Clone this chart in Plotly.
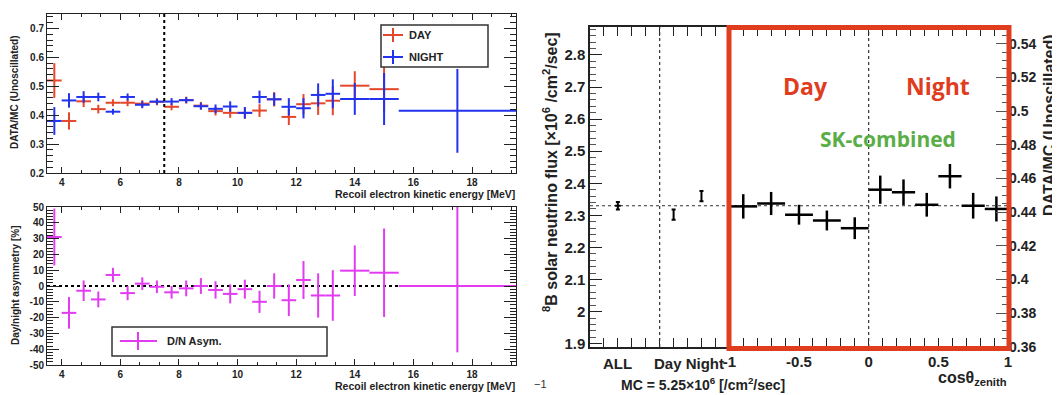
import plotly.graph_objects as go

# The page body has an 8px default margin, so the figure is drawn 8px smaller
# and all layout positions (given in screen pixels) are shifted by that margin.
OFF = 8
W, H = 1060 - OFF, 395 - OFF
FONT = "Liberation Sans"

# ---------------- data: left panels (energy spectrum) ----------------
energy_mev = [3.75, 4.25, 4.75, 5.25, 5.75, 6.25, 6.75, 7.25, 7.75, 8.25, 8.75, 9.25,
              9.75, 10.25, 10.75, 11.25, 11.75, 12.25, 12.75, 13.25, 14.0, 15.0, 17.5]
energy_halfbin = [0.25, 0.25, 0.25, 0.25, 0.25, 0.25, 0.25, 0.25, 0.25, 0.25, 0.25, 0.25,
                  0.25, 0.25, 0.25, 0.25, 0.25, 0.25, 0.25, 0.25, 0.5, 0.5, 2.0]

day_ratio = [0.520, 0.380, 0.448, 0.421, 0.443, 0.443, 0.440, 0.446, 0.429, 0.452, 0.433, 0.414,
             0.408, 0.408, 0.416, 0.455, 0.394, 0.438, 0.441, 0.450, 0.502, 0.490, None]
day_err = [0.060, 0.030, 0.020, 0.015, 0.012, 0.012, 0.012, 0.012, 0.012, 0.012, 0.013, 0.015,
           0.017, 0.020, 0.022, 0.025, 0.028, 0.035, 0.040, 0.050, 0.050, 0.080, None]

night_ratio = [0.380, 0.451, 0.463, 0.463, 0.412, 0.463, 0.436, 0.447, 0.447, 0.452, 0.431, 0.422,
               0.430, 0.408, 0.463, 0.455, 0.429, 0.424, 0.470, 0.474, 0.456, 0.456, 0.415]
night_err = [0.048, 0.025, 0.020, 0.015, 0.010, 0.012, 0.012, 0.010, 0.012, 0.010, 0.012, 0.015,
             0.018, 0.020, 0.022, 0.022, 0.030, 0.035, 0.040, 0.050, 0.055, 0.090, 0.145]

dn_asym = [31.0, -17.0, -3.0, -8.5, 7.0, -4.5, 1.5, -0.5, -4.0, -1.5, 0.0, -2.5,
           -5.0, -2.0, -10.0, 0.0, -9.0, 3.8, -6.0, -6.0, 9.7, 8.4, 0.0]
dn_err_up = [18, 10, 6.5, 5, 4.5, 4.5, 4, 4, 4, 5, 5, 5.5, 6, 6, 7, 8, 10, 12, 14, 16, 16, 28, 50]
dn_err_down = [18, 10, 6.5, 5, 4.5, 4.5, 4, 4, 4, 5, 5, 5.5, 6, 6, 7, 8, 10, 12, 14, 16, 16, 28, 42]

# ---------------- data: right panel (zenith) ----------------
summary_x = [-1.8, -1.4, -1.2]          # ALL, Day, Night
summary_flux = [2.330, 2.302, 2.360]
summary_err = [0.012, 0.016, 0.016]
summary_xerr = [0.02, 0.0, 0.0]

cos_day = [-0.9, -0.7, -0.5, -0.3, -0.1]
cos_day_half = [0.1, 0.1, 0.1, 0.1, 0.1]
flux_day = [2.328, 2.337, 2.302, 2.284, 2.260]
flux_day_err = [0.038, 0.036, 0.031, 0.031, 0.034]

cos_night = [0.0833, 0.25, 0.4167, 0.5833, 0.75, 0.9167]
cos_night_half = [0.0833, 0.0833, 0.0833, 0.0833, 0.0833, 0.0833]
flux_night = [2.380, 2.372, 2.333, 2.422, 2.330, 2.320]
flux_night_err = [0.044, 0.040, 0.037, 0.038, 0.040, 0.039]

mc_flux = 5.25
all_flux = 2.33

RED = "#E5472B"
BLUE = "#2233EE"
MAG = "#E23BF2"
BOX_RED = "#E03C1E"
GREEN = "#5BAE47"


def PX(x):
    return (x - OFF) / W


def PY(y):
    return 1 - (y - OFF) / H


fig = go.Figure()


def cross_trace(x, y, ex, ey, color, xa, ya, thick=2, ey_minus=None, cap=0):
    ey_d = dict(type="data", array=ey, width=cap, thickness=thick, color=color)
    if ey_minus is not None:
        ey_d["arrayminus"] = ey_minus
        ey_d["symmetric"] = False
    return go.Scatter(
        x=x, y=y, mode="markers", marker=dict(size=1, color="rgba(0,0,0,0)"),
        error_x=dict(type="data", array=ex, width=0, thickness=thick, color=color),
        error_y=ey_d, xaxis=xa, yaxis=ya, showlegend=False, hoverinfo="skip")


fig.add_trace(cross_trace(energy_mev, day_ratio, energy_halfbin, day_err, RED, "x", "y"))
fig.add_trace(cross_trace(energy_mev, night_ratio, energy_halfbin, night_err, BLUE, "x", "y"))
fig.add_trace(cross_trace(energy_mev, dn_asym, energy_halfbin, dn_err_up, MAG, "x2", "y2",
                          ey_minus=dn_err_down))

fig.add_trace(cross_trace(summary_x, summary_flux, summary_xerr, summary_err, "black", "x3", "y3",
                          thick=2, cap=2))
fig.add_trace(cross_trace(cos_day, flux_day, cos_day_half, flux_day_err, "black", "x3", "y3", thick=2.5))
fig.add_trace(cross_trace(cos_night, flux_night, cos_night_half, flux_night_err, "black", "x3", "y3",
                          thick=2.5))
fig.add_trace(go.Scatter(x=[None], y=[None], xaxis="x3", yaxis="y4", showlegend=False))

tick_small = dict(family=FONT, size=10, color="#222", weight="bold")
common = dict(showline=True, linecolor="#222", linewidth=1, ticks="inside", tickcolor="#222",
              showgrid=False, zeroline=False, tickfont=tick_small, automargin=False)

y3_range = [1.8898, 2.887]
y4_range = [y3_range[0] / mc_flux, y3_range[1] / mc_flux]

fig.update_layout(
    width=W, height=H, margin=dict(l=0, r=0, t=0, b=0, autoexpand=False),
    paper_bgcolor="white", plot_bgcolor="white", showlegend=False,
    font=dict(family=FONT),
    xaxis=dict(common, domain=[PX(47), PX(516)], anchor="y", range=[3.5, 19.5],
               tickvals=[4, 6, 8, 10, 12, 14, 16, 18], ticklen=6, mirror="allticks",
               minor=dict(dtick=2 / 3, tick0=4, ticklen=3, ticks="inside", tickcolor="#222")),
    yaxis=dict(common, domain=[PY(173), PY(14)], anchor="x", range=[0.2, 0.75],
               dtick=0.1, tick0=0.2, ticklen=12, mirror="allticks",
               minor=dict(dtick=0.02, ticklen=6, ticks="inside", tickcolor="#222")),
    xaxis2=dict(common, domain=[PX(47), PX(516)], anchor="y2", range=[3.5, 19.5],
                tickvals=[4, 6, 8, 10, 12, 14, 16, 18], ticklen=6, mirror="allticks",
                minor=dict(dtick=2 / 3, tick0=4, ticklen=3, ticks="inside", tickcolor="#222")),
    yaxis2=dict(common, domain=[PY(365), PY(207)], anchor="x2", range=[-50, 50],
                tickvals=[-50, -40, -30, -20, -10, 0, 10, 20, 30, 40, 50],
                ticktext=["-50", "-40", "-30", "-20", "-10", "0", "10", "20", "30", "40", "50"],
                ticklen=12, mirror="allticks",
                minor=dict(dtick=2, ticklen=6, ticks="inside", tickcolor="#222")),
    xaxis3=dict(common, domain=[PX(590), PX(1008)], anchor="y3", range=[-2, 1],
                tickvals=[-1, -0.5, 0, 0.5, 1], ticktext=["-1", "-0.5", "0", "0.5", "1"],
                ticklen=9, mirror="allticks", linewidth=1.5,
                tickfont=dict(family=FONT, size=15, color="#222", weight="bold"),
                minor=dict(dtick=0.1, tick0=0, ticklen=5, ticks="inside", tickcolor="#222")),
    yaxis3=dict(common, domain=[PY(347), PY(27)], anchor="x3", range=y3_range,
                dtick=0.1, tick0=1.9, ticklen=12, mirror=False, linewidth=1.5,
                tickfont=dict(family=FONT, size=15, color="#222", weight="bold"),
                minor=dict(dtick=0.02, tick0=1.9, ticklen=6, ticks="inside", tickcolor="#555")),
    yaxis4=dict(overlaying="y3", side="right", anchor="x3", automargin=False,
                range=y4_range,
                showgrid=False, zeroline=False, showline=False,
                ticks="inside", tickcolor="#555", ticklen=12,
                tickvals=[0.36, 0.38, 0.40, 0.42, 0.44, 0.46, 0.48, 0.50, 0.52, 0.54],
                ticktext=["0.36", "0.38", "0.4", "0.42", "0.44", "0.46", "0.48", "0.5", "0.52", "0.54"],
                tickfont=dict(family=FONT, size=14, color="#222", weight="bold"),
                minor=dict(dtick=0.005, tick0=0.36, ticklen=6, ticks="inside", tickcolor="#555")),
)

shapes = []
# dotted reference lines
shapes.append(dict(type="line", xref="x", yref="y domain", x0=7.5, x1=7.5, y0=0, y1=1,
                   line=dict(color="black", width=2, dash="dot")))
shapes.append(dict(type="line", xref="x2 domain", yref="y2", x0=0, x1=1, y0=0, y1=0,
                   line=dict(color="black", width=2, dash="dot"), layer="below"))
shapes.append(dict(type="line", xref="x3", yref="y3 domain", x0=-1.5, x1=-1.5, y0=0, y1=1,
                   line=dict(color="#333", width=1.2, dash="dot")))
shapes.append(dict(type="line", xref="x3", yref="y3 domain", x0=0, x1=0, y0=0, y1=1,
                   line=dict(color="#333", width=1.2, dash="dot")))
shapes.append(dict(type="line", xref="x3 domain", yref="y3", x0=0, x1=1, y0=all_flux, y1=all_flux,
                   line=dict(color="#333", width=1.2, dash="dot"), layer="below"))
# red highlight box
shapes.append(dict(type="rect", xref="paper", yref="paper", x0=PX(729), x1=PX(1009),
                   y0=PY(348.5), y1=PY(27.5), line=dict(color=BOX_RED, width=5)))
# legend top-left
shapes.append(dict(type="rect", xref="paper", yref="paper", x0=PX(381), x1=PX(488),
                   y0=PY(67), y1=PY(25), line=dict(color="#333", width=1.5), fillcolor="white"))
for yc, col in [(35, RED), (57, BLUE)]:
    shapes.append(dict(type="line", xref="paper", yref="paper", x0=PX(383), x1=PX(403),
                       y0=PY(yc), y1=PY(yc), line=dict(color=col, width=2)))
    shapes.append(dict(type="line", xref="paper", yref="paper", x0=PX(393), x1=PX(393),
                       y0=PY(yc - 7), y1=PY(yc + 7), line=dict(color=col, width=2)))
# legend bottom-left
shapes.append(dict(type="rect", xref="paper", yref="paper", x0=PX(112), x1=PX(327),
                   y0=PY(356), y1=PY(327), line=dict(color="#333", width=1.5), fillcolor="white"))
shapes.append(dict(type="line", xref="paper", yref="paper", x0=PX(120), x1=PX(157),
                   y0=PY(341), y1=PY(341), line=dict(color=MAG, width=2)))
shapes.append(dict(type="line", xref="paper", yref="paper", x0=PX(138), x1=PX(138),
                   y0=PY(332), y1=PY(350), line=dict(color=MAG, width=2)))
fig.update_layout(shapes=shapes)


def ann(text, x, y, size, xanchor="center", angle=0, color="#222", weight="bold", family=FONT):
    return dict(text=text, x=PX(x), y=PY(y), xref="paper", yref="paper", showarrow=False,
                xanchor=xanchor, yanchor="middle", textangle=angle,
                font=dict(family=family, size=size, color=color, weight=weight))


anns = [
    ann("DATA/MC (Unoscillated)", 15, 92, 10, angle=-90),
    ann("Day/night asymmetry [%]", 15, 286, 10, angle=-90),
    ann("Recoil electron kinetic energy [MeV]", 517, 194, 10.5, xanchor="right"),
    ann("Recoil electron kinetic energy [MeV]", 517, 386, 10.5, xanchor="right"),
    ann("DAY", 407, 35, 11, xanchor="left"),
    ann("NIGHT", 407, 57, 11, xanchor="left"),
    ann("D/N Asym.", 165, 341, 11, xanchor="left"),
    ann("\u22121", 540, 384, 11, weight="normal", color="#333"),
    ann("<sup>8</sup>B solar neutrino flux [\u00d710<sup>6</sup> /cm<sup>2</sup>/sec]", 550, 172, 16,
        angle=-90),
    ann("DATA/MC (Unoscillated)", 1049, 125, 16, angle=-90),
    ann("ALL", 617, 363, 15),
    ann("Day Night", 689, 363, 15),
    ann("MC = 5.25\u00d710<sup>6</sup> [/cm<sup>2</sup>/sec]", 703, 384, 14),
    ann("cos\u03b8<sub>zenith</sub>", 1009, 378, 16, xanchor="right"),
    ann("Day", 805, 86, 23, color=BOX_RED, family="Open Sans"),
    ann("Night", 938, 86, 23, color=BOX_RED, family="Open Sans"),
    ann("SK-combined", 888, 139, 21, color=GREEN, family="Open Sans"),
]
fig.update_layout(annotations=anns)

fig.write_html("out.html")
